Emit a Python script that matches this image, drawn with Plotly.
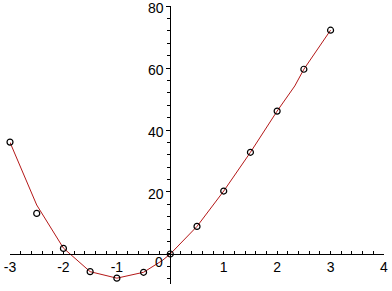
import plotly.graph_objects as go

# data points (open circles)
x_pts = [-3, -2.5, -2, -1.5, -1, -0.5, 0, 0.5, 1, 1.5, 2, 2.5, 3]
y_pts = [36.1, 13.1, 1.8, -5.7, -7.8, -5.9, 0, 8.9, 20.3, 32.8, 46.1, 59.6, 72.2]

# curve (red line)
x_curve = [-3, -2.5, -2, -1.5, -1, -0.5, -0.15, 0, 0.5, 1, 1.5, 2, 2.33, 2.5, 3]
y_curve = [36.0, 15.8, 1.9, -5.7, -7.8, -5.9, -2.1, 0, 8.9, 20.3, 32.8, 46.1, 54.2, 59.6, 72.2]

x_ticks = [-3, -2, -1, 1, 2, 3, 4]
x_ticktext = ["-3", "-2", "-1", "1", "2", "3", "4"]
y_ticks = [20, 40, 60, 80]

FONT = "Liberation Sans"
FS = 14

fig = go.Figure()
fig.add_trace(go.Scatter(x=x_curve, y=y_curve, mode="lines", cliponaxis=False,
                         line=dict(color="#b41818", width=1), hoverinfo="skip"))
fig.add_trace(go.Scatter(x=x_pts, y=y_pts, mode="markers", cliponaxis=False,
                         marker=dict(symbol="circle-open", size=6,
                                     color="black", line=dict(width=1.2, color="black"))))

xr = [-3, 4]
yr = [-9.68, 80]

fig.update_layout(
    width=392, height=291,
    margin=dict(l=10, r=8, t=6, b=7, autoexpand=False),
    paper_bgcolor="white", plot_bgcolor="white",
    showlegend=False,
    font=dict(family=FONT, size=FS, color="black"),
    xaxis=dict(range=xr, anchor="free", position=(0 - yr[0]) / (yr[1] - yr[0]),
               automargin=False,
               showline=True, linecolor="black", linewidth=1,
               showgrid=False, zeroline=False,
               tickmode="array", tickvals=x_ticks, ticktext=x_ticktext,
               ticks="inside", ticklen=3, tickcolor="black", tickwidth=1,
               ticklabeloverflow="allow",
               minor=dict(dtick=0.2, tick0=0, ticks="inside", ticklen=3,
                          tickcolor="black", tickwidth=1, showgrid=False),
               tickfont=dict(family=FONT, size=FS, color="black")),
    yaxis=dict(range=yr, anchor="free", position=(0 - xr[0]) / (xr[1] - xr[0]),
               automargin=False,
               showline=True, linecolor="black", linewidth=1,
               showgrid=False, zeroline=False,
               tickmode="array", tickvals=y_ticks,
               ticks="outside", ticklen=4, tickcolor="black", tickwidth=1,
               ticklabeloverflow="allow", ticklabelshift=2,
               minor=dict(dtick=4, tick0=0, ticks="outside", ticklen=3,
                          tickcolor="black", tickwidth=1, showgrid=False),
               tickfont=dict(family=FONT, size=FS, color="black")),
    annotations=[dict(x=0, y=0, xref="x", yref="y", text="0", showarrow=False,
                      xanchor="right", yanchor="top", xshift=-5, yshift=2,
                      font=dict(family=FONT, size=FS, color="black"))],
)

fig.write_html("out.html")
